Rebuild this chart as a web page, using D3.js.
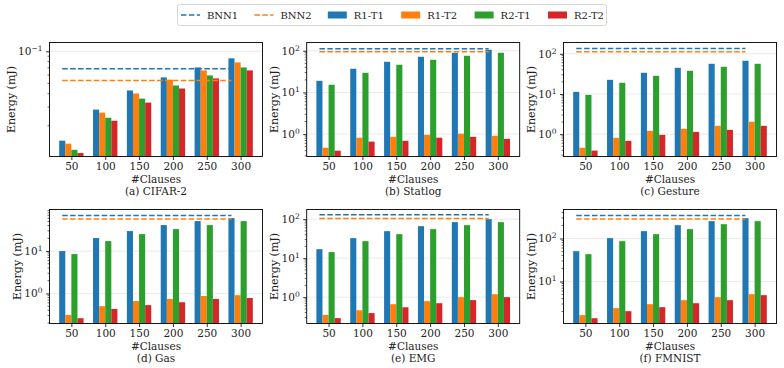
<!DOCTYPE html>
<html>
<head>
<meta charset="utf-8">
<script src="https://cdn.jsdelivr.net/npm/d3@7"></script>
<style>
  body { margin: 0; background: #fff; }
  text { font-family: "DejaVu Serif", serif; fill: #222; }
</style>
</head>
<body>
<div id="chart"></div>
<script>
// x categories
const clauses = [50, 100, 150, 200, 250, 300];
const seriesNames = ['R1-T1', 'R1-T2', 'R2-T1', 'R2-T2'];
const bnnNames = ['BNN1', 'BNN2'];
const colors = ['#1f77b4', '#ff7f0e', '#2ca02c', '#d62728'];

// energy (mJ) per dataset, rows = R1-T1, R1-T2, R2-T1, R2-T2
const cifar2 = [
  [0.0145, 0.0284, 0.0429, 0.0569, 0.0706, 0.0859],
  [0.0136, 0.0266, 0.0402, 0.0541, 0.0662, 0.0787],
  [0.0119, 0.0238, 0.0360, 0.0478, 0.0594, 0.0706],
  [0.0111, 0.0223, 0.0330, 0.0448, 0.0557, 0.0662]
];
const cifar2Bnn = [0.0686, 0.0533];

const statlog = [
  [19.0, 37.0, 54.4, 71.8, 89.5, 105.7],
  [0.47, 0.82, 0.86, 0.96, 1.02, 0.91],
  [15.3, 29.6, 46.1, 60.8, 75.9, 89.5],
  [0.40, 0.66, 0.69, 0.82, 0.86, 0.77]
];
const statlogBnn = [111.7, 94.6];

const gesture = [
  [11.3, 22.5, 33.7, 44.8, 56.4, 67.0],
  [0.46, 0.81, 1.21, 1.36, 1.61, 2.03],
  [9.5, 19.0, 28.3, 37.7, 47.5, 56.4],
  [0.39, 0.68, 0.96, 1.14, 1.28, 1.61]
];
const gestureBnn = [135.8, 112.0];

const gas = [
  [10.0, 20.3, 29.7, 41.1, 51.1, 60.2],
  [0.31, 0.50, 0.66, 0.74, 0.87, 0.91],
  [8.5, 17.2, 25.2, 33.1, 41.1, 51.1],
  [0.26, 0.43, 0.53, 0.62, 0.74, 0.78]
];
const gasBnn = [69.6, 57.0];

const emg = [
  [17.0, 32.6, 49.2, 66.2, 83.8, 100.0],
  [0.35, 0.46, 0.66, 0.79, 1.00, 1.19],
  [14.3, 27.3, 41.3, 55.4, 70.2, 83.8],
  [0.29, 0.39, 0.55, 0.70, 0.84, 1.00]
];
const emgBnn = [129.0, 104.0];

const fmnist = [
  [50.7, 101.8, 148, 204, 253, 297],
  [1.65, 2.40, 2.97, 3.68, 4.32, 5.07],
  [43.2, 86.7, 126, 165, 215, 253],
  [1.40, 2.04, 2.53, 3.13, 3.68, 4.81]
];
const fmnistBnn = [343, 282];

const titles = ['(a) CIFAR-2', '(b) Statlog', '(c) Gesture', '(d) Gas', '(e) EMG', '(f) FMNIST'];

// layout of the 2x3 grid
const panels = [
  {values: cifar2,  bnn: cifar2Bnn,  yDomain: [0.0103, 0.121], left: 49.5,  top: 42.5},
  {values: statlog, bnn: statlogBnn, yDomain: [0.29, 158],     left: 306.7, top: 42.5},
  {values: gesture, bnn: gestureBnn, yDomain: [0.278, 191],    left: 563.5, top: 42.5},
  {values: gas,     bnn: gasBnn,     yDomain: [0.195, 96],     left: 49.5,  top: 209.5},
  {values: emg,     bnn: emgBnn,     yDomain: [0.211, 177],    left: 306.7, top: 209.5},
  {values: fmnist,  bnn: fmnistBnn,  yDomain: [1.055, 472],    left: 563.5, top: 209.5}
];
const panelW = 213, panelH = 114;
const barW = 0.18;
const fs = 10.5;

const svg = d3.select('#chart').append('svg')
    .attr('width', 784)
    .attr('height', 368);

panels.forEach((p, pi) => {
  const x = d3.scaleLinear().domain([-0.646, 5.646]).range([p.left, p.left + panelW]);
  const y = d3.scaleLog().domain(p.yDomain).range([p.top + panelH, p.top]);
  const g = svg.append('g');

  const lo = Math.floor(Math.log10(p.yDomain[0])), hi = Math.ceil(Math.log10(p.yDomain[1]));
  const majors = d3.range(lo, hi + 1).map(e => Math.pow(10, e))
      .filter(v => v >= p.yDomain[0] && v <= p.yDomain[1]);
  const minors = [];
  d3.range(lo, hi + 1).forEach(e => {
    for (let k = 2; k <= 9; k++) {
      const v = k * Math.pow(10, e);
      if (v >= p.yDomain[0] && v <= p.yDomain[1]) minors.push(v);
    }
  });

  // grid
  g.selectAll('.grid')
      .data(majors)
    .join('line')
      .attr('x1', p.left).attr('x2', p.left + panelW)
      .attr('y1', d => y(d)).attr('y2', d => y(d))
      .attr('stroke', '#e5e5e5').attr('stroke-width', 0.8);

  // bars
  p.values.forEach((vals, si) => {
    g.selectAll('.bar' + si)
        .data(vals)
      .join('rect')
        .attr('x', (d, i) => x(i + (si - 1.5) * barW - barW / 2))
        .attr('width', x(barW) - x(0))
        .attr('y', d => y(d))
        .attr('height', d => p.top + panelH - y(d))
        .attr('fill', colors[si]);
  });

  // BNN reference lines
  g.selectAll('.bnn')
      .data(p.bnn)
    .join('line')
      .attr('x1', x(-0.27)).attr('x2', x(4.73))
      .attr('y1', d => y(d)).attr('y2', d => y(d))
      .attr('stroke', (d, i) => colors[i])
      .attr('stroke-width', 1.5)
      .attr('stroke-dasharray', '5.5,2.4');

  // y axis, labels as 10^n
  const yAxis = g.append('g')
      .attr('transform', `translate(${p.left},0)`)
      .call(d3.axisLeft(y).tickValues(majors).tickSize(3.5).tickPadding(3.5).tickFormat(''));
  yAxis.select('.domain').remove();
  yAxis.selectAll('line').attr('stroke', '#000').attr('stroke-width', 0.8);
  yAxis.selectAll('.tick text')
      .attr('font-size', fs)
      .each(function(d) {
        const t = d3.select(this);
        const e = String(Math.round(Math.log10(d))).replace('-', '\u2212');
        t.append('tspan').text('10');
        t.append('tspan').attr('dy', '-0.55em').attr('font-size', 7.5).text(e);
      });
  g.selectAll('.minor')
      .data(minors)
    .join('line')
      .attr('x1', p.left - 2).attr('x2', p.left)
      .attr('y1', d => y(d)).attr('y2', d => y(d))
      .attr('stroke', '#000').attr('stroke-width', 0.6);

  // x axis
  const xAxis = g.append('g')
      .attr('transform', `translate(0,${p.top + panelH})`)
      .call(d3.axisBottom(x).tickValues(d3.range(clauses.length)).tickSize(3.5).tickPadding(3)
        .tickFormat(i => clauses[i]));
  xAxis.select('.domain').remove();
  xAxis.selectAll('line').attr('stroke', '#000').attr('stroke-width', 0.8);
  xAxis.selectAll('text').attr('font-size', fs);

  // frame
  g.append('rect')
      .attr('x', p.left).attr('y', p.top)
      .attr('width', panelW).attr('height', panelH)
      .attr('fill', 'none').attr('stroke', '#000').attr('stroke-width', 0.9);

  // labels
  const minX = Math.min(...yAxis.selectAll('.tick text').nodes().map(n => n.getBoundingClientRect().left));
  g.append('text')
      .attr('transform', `translate(${minX - 7},${p.top + panelH / 2}) rotate(-90)`)
      .attr('text-anchor', 'middle')
      .attr('dominant-baseline', 'central')
      .attr('font-size', 11)
      .text('Energy (mJ)');
  g.append('text')
      .attr('x', p.left + panelW / 2).attr('y', p.top + panelH + 26.5)
      .attr('text-anchor', 'middle').attr('font-size', fs)
      .text('#Clauses');
  g.append('text')
      .attr('x', p.left + panelW / 2).attr('y', p.top + panelH + 38.8)
      .attr('text-anchor', 'middle').attr('font-size', fs)
      .text(titles[pi]);
});

// legend
const legend = svg.append('g').attr('class', 'legend');
legend.append('rect')
    .attr('x', 177.5).attr('y', 4.5).attr('width', 429).attr('height', 21)
    .attr('rx', 2).attr('fill', '#fff').attr('stroke', '#ccc').attr('stroke-width', 0.8);
const legendItems = bnnNames.map((n, i) => ({name: n, color: colors[i], line: true}))
    .concat(seriesNames.map((n, i) => ({name: n, color: colors[i], line: false})));
const item = legend.selectAll('.item')
    .data(legendItems)
  .join('g')
    .attr('transform', (d, i) => `translate(${181 + i * 73.4},15)`);
item.filter(d => d.line).append('line')
    .attr('x1', 0).attr('x2', 19).attr('stroke', d => d.color)
    .attr('stroke-width', 1.5).attr('stroke-dasharray', '5.5,2.4');
item.filter(d => !d.line).append('rect')
    .attr('x', 0).attr('y', -3.5).attr('width', 19).attr('height', 7)
    .attr('fill', d => d.color);
item.append('text')
    .attr('x', 26).attr('dy', '0.35em').attr('font-size', 10)
    .text(d => d.name);
</script>
</body>
</html>
